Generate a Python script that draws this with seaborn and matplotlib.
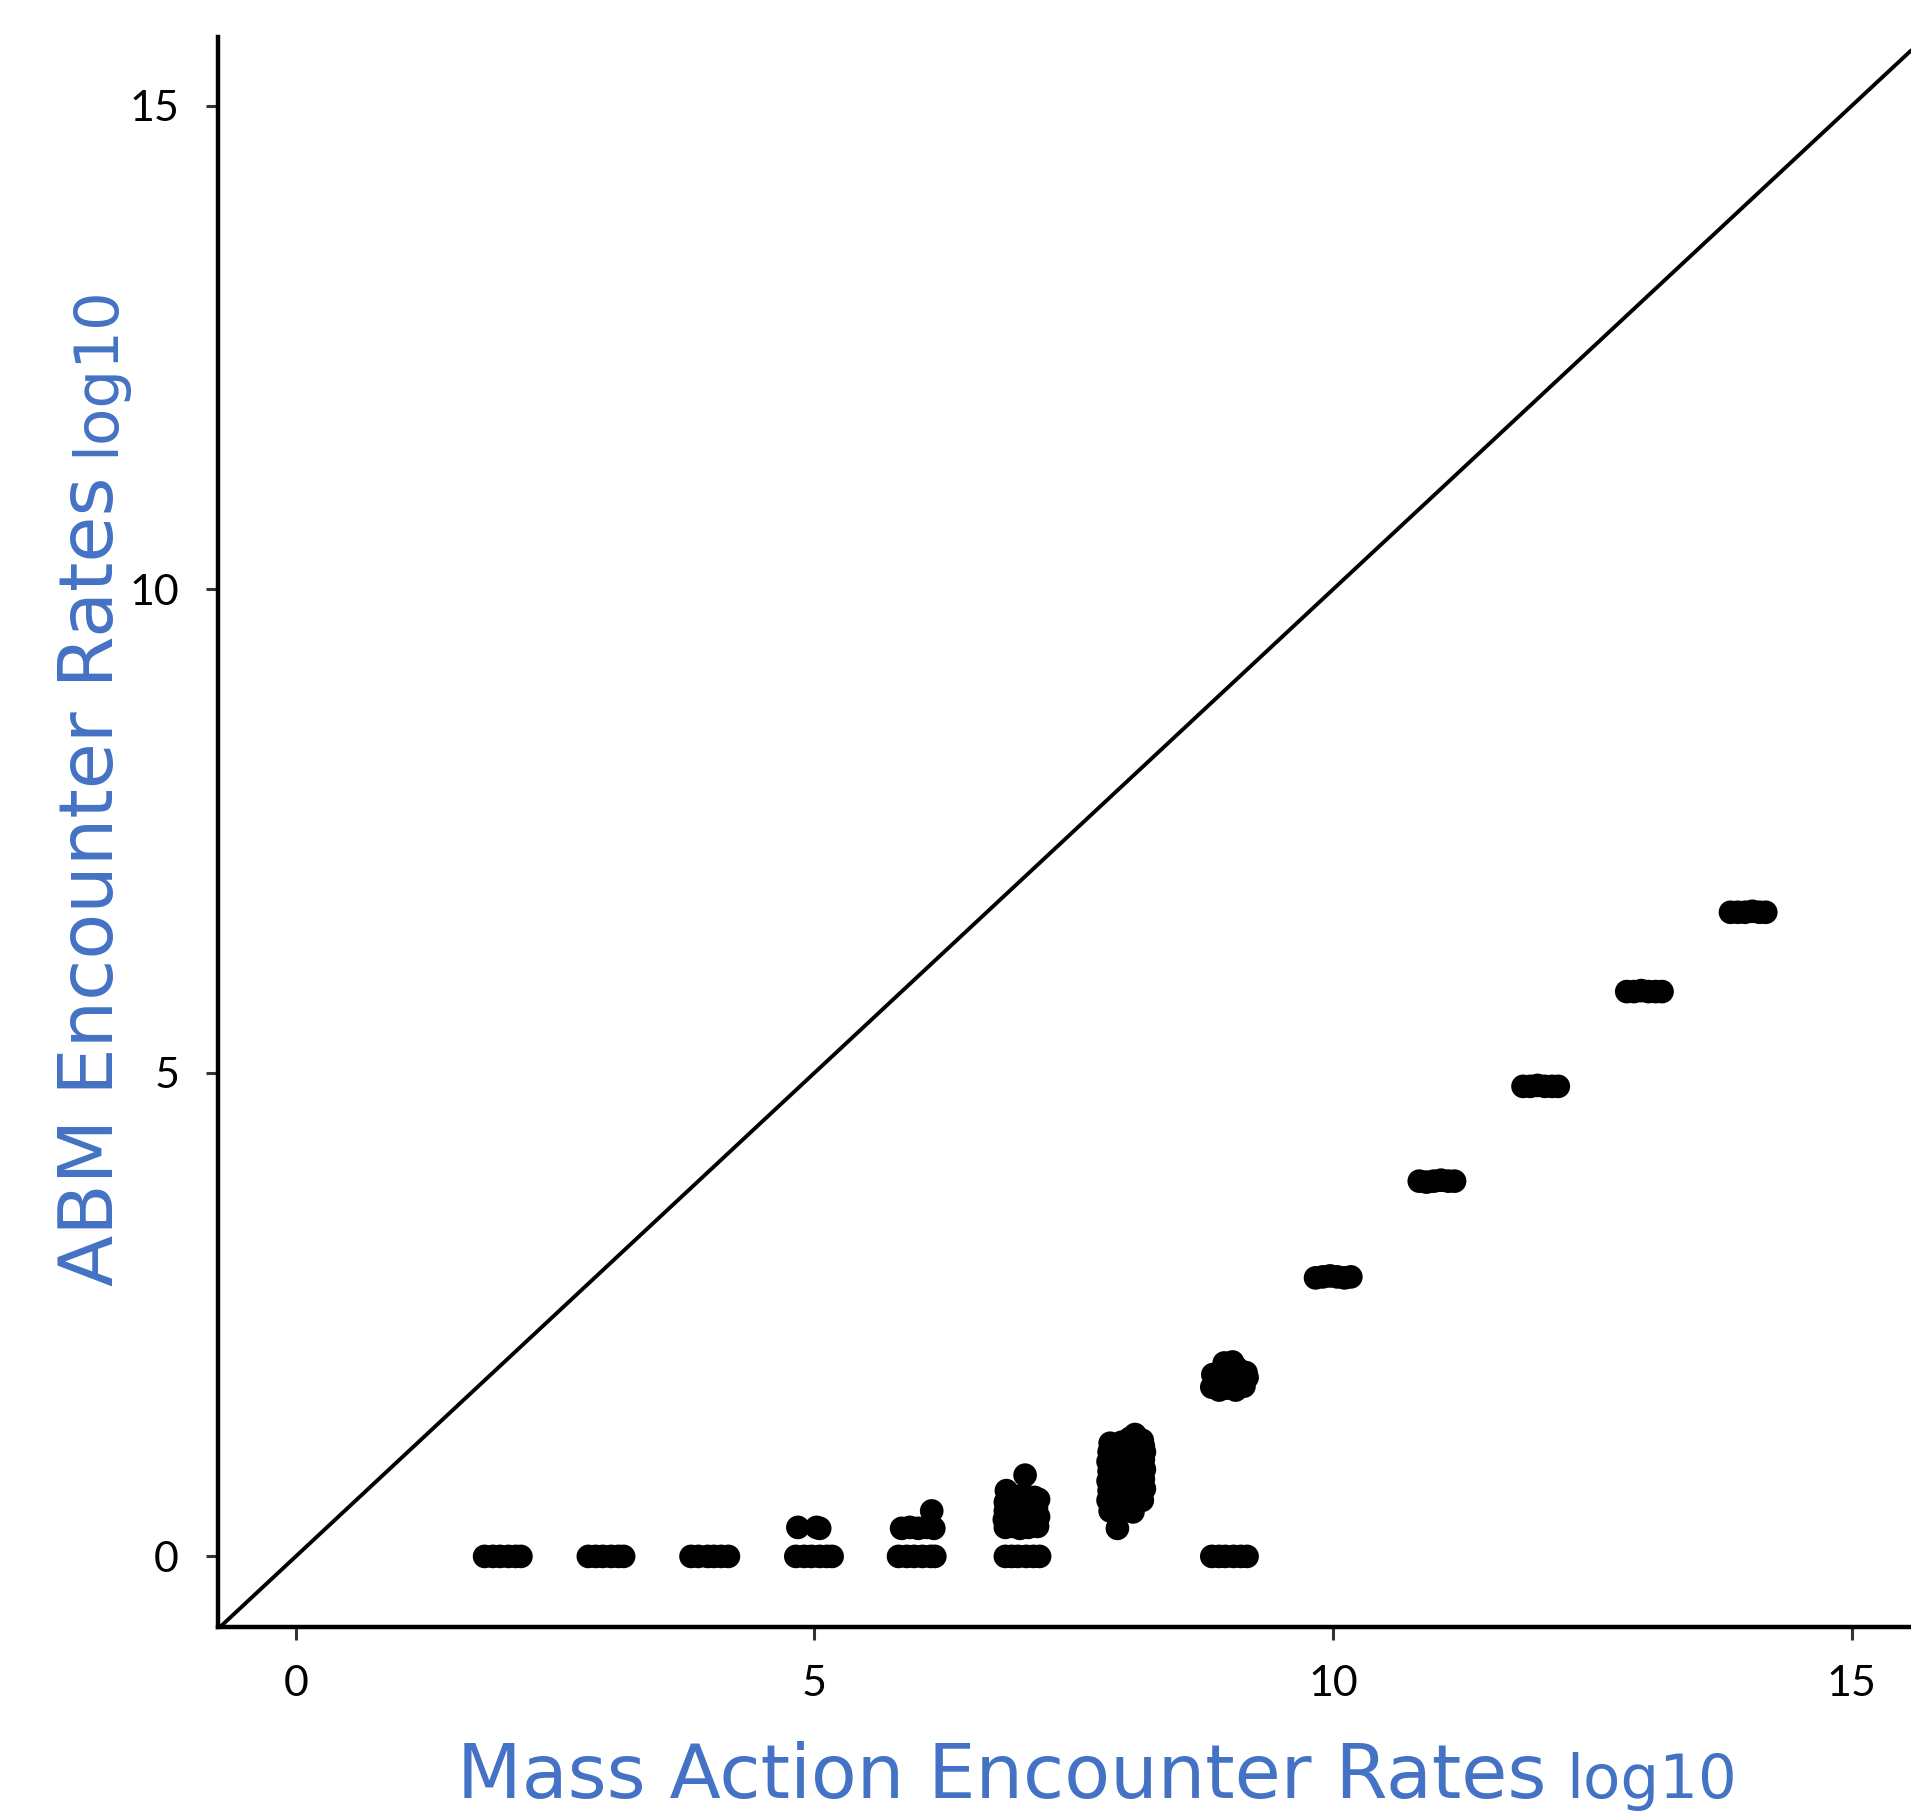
import matplotlib
matplotlib.use("Agg")
import matplotlib.pyplot as plt
import seaborn as sns
import pandas as pd

# ---- data ----
ma_rate = [
    # y = 0 bands
    1.82, 1.90, 1.97, 2.05, 2.12, 2.17,
    2.82, 2.89, 2.96, 3.04, 3.11, 3.16,
    3.81, 3.88, 3.97, 4.03, 4.10, 4.17,
    4.82, 4.90, 4.97, 5.05, 5.12, 5.17,
    5.81, 5.89, 5.96, 6.04, 6.12, 6.16,
    6.84, 6.90, 6.96, 7.04, 7.11, 7.17,
    8.83, 8.90, 8.96, 9.04, 9.11, 9.17,
    # x = 5 upper
    4.84, 5.02, 5.05,
    # x = 6 upper
    5.84, 5.92, 6.00, 6.08, 6.15, 6.13,
    # x = 7 cluster
    6.84, 6.91, 6.98, 7.06, 7.15,
    6.83, 6.92, 7.00, 7.08, 7.16,
    6.84, 6.90, 6.97, 7.05, 7.14,
    6.84, 6.91, 7.00, 7.09, 7.16,
    6.85, 6.95, 7.03, 7.12, 7.03,
    # x = 8 cluster
    7.92, 7.85, 7.95, 8.07, 8.16,
    7.83, 7.91, 8.00, 8.09, 8.18,
    7.84, 7.93, 8.01, 8.10, 8.17,
    7.83, 7.92, 8.02, 8.08, 8.18,
    7.84, 7.90, 7.99, 8.09, 8.17,
    7.83, 7.92, 8.01, 8.11, 8.18,
    7.84, 7.93, 8.00, 8.08, 8.17,
    7.85, 7.93, 8.02, 8.10, 8.16,
    7.96, 8.04, 8.09,
    # x = 9 upper
    8.83, 8.90, 8.98, 9.06, 9.14, 9.17,
    8.84, 8.92, 9.00, 9.08, 9.16, 8.95, 9.03,
    # x = 10..14 bands
    9.83, 9.90, 9.97, 10.04, 10.11, 10.17,
    10.83, 10.90, 10.97, 11.04, 11.11, 11.17,
    11.83, 11.90, 11.97, 12.04, 12.11, 12.17,
    12.83, 12.90, 12.97, 13.04, 13.11, 13.17,
    13.83, 13.90, 13.97, 14.04, 14.11, 14.17,
]
abm_rate = [
    0, 0, 0, 0, 0, 0,
    0, 0, 0, 0, 0, 0,
    0, 0, 0, 0, 0, 0,
    0, 0, 0, 0, 0, 0,
    0, 0, 0, 0, 0, 0,
    0, 0, 0, 0, 0, 0,
    0, 0, 0, 0, 0, 0,
    0.30, 0.30, 0.29,
    0.29, 0.30, 0.29, 0.30, 0.29, 0.47,
    0.30, 0.31, 0.29, 0.30, 0.31,
    0.38, 0.40, 0.37, 0.39, 0.41,
    0.47, 0.49, 0.46, 0.48, 0.50,
    0.56, 0.58, 0.55, 0.57, 0.59,
    0.68, 0.62, 0.63, 0.61, 0.84,
    0.29, 0.47, 0.52, 0.46, 0.58,
    0.58, 0.62, 0.60, 0.56, 0.70,
    0.68, 0.72, 0.70, 0.66, 0.80,
    0.78, 0.82, 0.80, 0.76, 0.90,
    0.88, 0.92, 0.90, 0.86, 1.00,
    0.98, 1.02, 1.00, 0.96, 1.08,
    1.08, 1.10, 1.08, 1.06, 1.14,
    1.17, 1.15, 1.17, 1.16, 1.20,
    1.18, 1.22, 1.26,
    1.75, 1.72, 1.74, 1.72, 1.76, 1.85,
    1.88, 1.92, 1.96, 1.94, 1.90, 2.00, 2.01,
    2.88, 2.89, 2.90, 2.89, 2.88, 2.89,
    3.88, 3.87, 3.88, 3.89, 3.88, 3.88,
    4.86, 4.86, 4.87, 4.86, 4.86, 4.86,
    5.84, 5.84, 5.85, 5.84, 5.84, 5.84,
    6.66, 6.66, 6.66, 6.67, 6.66, 6.66,
]

x_ticks = [0, 5, 10, 15]
y_ticks = [0, 5, 10, 15]
x_label_main = "Mass Action Encounter Rates"
y_label_main = "ABM Encounter Rates"
label_suffix = "log10"

df = pd.DataFrame({"ma": ma_rate, "abm": abm_rate})

W, H, DPI = 1911, 1812, 100
sns.set_theme(style="ticks")
plt.rcParams["font.family"] = ["Lato", "DejaVu Sans"]

fig = plt.figure(figsize=(W / DPI, H / DPI), dpi=DPI)
ax = fig.add_axes([218 / W, (H - 1627) / H, (W - 218) / W, (1627 - 37) / H])

ax.axline((0, 0), slope=1, color="black", lw=2.8, zorder=1)
sns.scatterplot(data=df, x="ma", y="abm", color="black", s=290,
                edgecolor="none", linewidth=0, ax=ax, zorder=2)

ax.set_xlim(-0.75, 15.57)
ax.set_ylim(-0.73, 15.71)
ax.set_xticks(x_ticks)
ax.set_yticks(y_ticks)
ax.set_xticklabels([str(t) for t in x_ticks])
ax.set_yticklabels([str(t) for t in y_ticks])
ax.set_xlabel("")
ax.set_ylabel("")

for side in ["top", "right"]:
    ax.spines[side].set_visible(False)
for side in ["left", "bottom"]:
    ax.spines[side].set_linewidth(3.2)
    ax.spines[side].set_color("black")

ax.tick_params(axis="both", length=9, width=2.2, color="#333333",
               labelsize=31, labelcolor="black")
ax.tick_params(axis="x", pad=18)
ax.tick_params(axis="y", pad=19)

blue = "#4472C4"
lab_font = ["DejaVu Sans"]
fig.canvas.draw()
r = fig.canvas.get_renderer()

# x label
tx = fig.text(457 / W, (H - 1798) / H, x_label_main, color=blue, fontsize=54,
              family=lab_font, ha="left", va="baseline")
bb = tx.get_window_extent(r)
gap = 20
fig.text((bb.x1 + gap) / W, (H - 1798) / H, label_suffix, color=blue,
         fontsize=44, family=lab_font, ha="left", va="baseline")

# y label (rotated)
ty = fig.text(113 / W, (H - 1286) / H, y_label_main, color=blue, fontsize=54,
              family=lab_font, rotation=90, rotation_mode="anchor",
              ha="left", va="baseline")
bby = ty.get_window_extent(r)
fig.text(113 / W, (bby.y1 + gap) / H, label_suffix, color=blue,
         fontsize=44, family=lab_font, rotation=90, rotation_mode="anchor",
         ha="left", va="baseline")

fig.savefig("out.png", dpi=DPI)
